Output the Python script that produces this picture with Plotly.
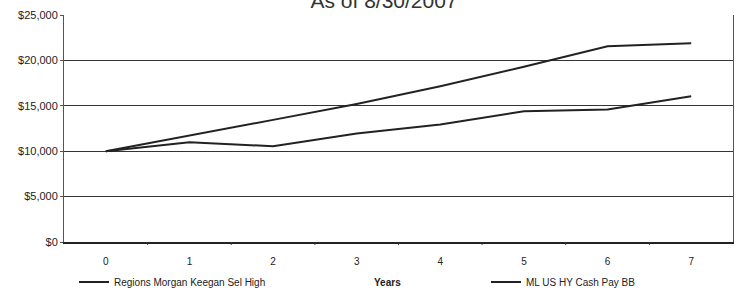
import plotly.graph_objects as go

years = [0, 1, 2, 3, 4, 5, 6, 7]
year_labels = ["0", "1", "2", "3", "4", "5", "6", "7"]
rmk_values = [10000, 11700, 13450, 15200, 17150, 19300, 21550, 21900]
ml_values = [10000, 10990, 10550, 11950, 12930, 14400, 14580, 16040]
y_ticks = [0, 5000, 10000, 15000, 20000, 25000]
y_labels = ["$0", "$5,000", "$10,000", "$15,000", "$20,000", "$25,000"]
series_names = ["Regions Morgan Keegan Sel High", "ML US HY Cash Pay BB"]

font_family = "Liberation Sans, Arial, sans-serif"
W, H = 741, 290
plot_h = H - 15 - 48

fig = go.Figure()
fig.add_trace(go.Scatter(x=years, y=rmk_values, mode="lines", name=series_names[0],
                         line=dict(color="#222222", width=2), legend="legend"))
fig.add_trace(go.Scatter(x=years, y=ml_values, mode="lines", name=series_names[1],
                         line=dict(color="#222222", width=2), legend="legend2"))

legend_common = dict(orientation="h", xref="container", yref="container",
                     xanchor="left", yanchor="middle", y=1 - 282 / H,
                     font=dict(size=10, color="#222222"), itemwidth=30,
                     bgcolor="rgba(0,0,0,0)", borderwidth=0)

fig.update_layout(
    width=W, height=H,
    margin=dict(l=64, r=8, t=15, b=48, autoexpand=False),
    paper_bgcolor="white", plot_bgcolor="white",
    font=dict(family=font_family, color="#222222"),
    title=dict(text="As of 8/30/2007", x=384 / W, xanchor="center",
               y=1 - 8 / H, yref="container", yanchor="bottom",
               font=dict(size=21, color="#333333")),
    showlegend=True,
    legend=dict(legend_common, x=74 / W),
    legend2=dict(legend_common, x=486 / W),
)

fig.update_xaxes(
    type="linear", range=[-0.5, 7.5], tickmode="array", tickvals=years,
    ticktext=year_labels, showgrid=False, zeroline=False,
    showline=True, linecolor="#222222", linewidth=1.5,
    ticks="", ticklabelstandoff=9, tickfont=dict(size=10, color="#222222"),
)
fig.update_yaxes(
    range=[0, 25000], tickmode="array", tickvals=y_ticks, ticktext=y_labels,
    showgrid=True, gridcolor="#333333", gridwidth=1.2, zeroline=False,
    showline=True, linecolor="#555555", linewidth=1, mirror=True,
    ticks="outside", ticklen=3, tickcolor="#555555",
    tickfont=dict(size=11, color="#222222"),
)

# tick marks between categories on the x axis
for b in [0.5, 1.5, 2.5, 3.5, 4.5, 5.5, 6.5]:
    fig.add_shape(type="line", xref="x", yref="paper", x0=b, x1=b, y0=0, y1=-0.013,
                  line=dict(color="#333333", width=1))

fig.add_annotation(text="<b>Years</b>", xref="paper", yref="paper",
                   x=(387 - 64) / 669, y=-(282 - 242) / plot_h, yanchor="middle",
                   showarrow=False, font=dict(size=10, color="#222222"))

fig.write_html("out.html", config={"displayModeBar": False},
               post_script="document.body.style.margin='0';")
